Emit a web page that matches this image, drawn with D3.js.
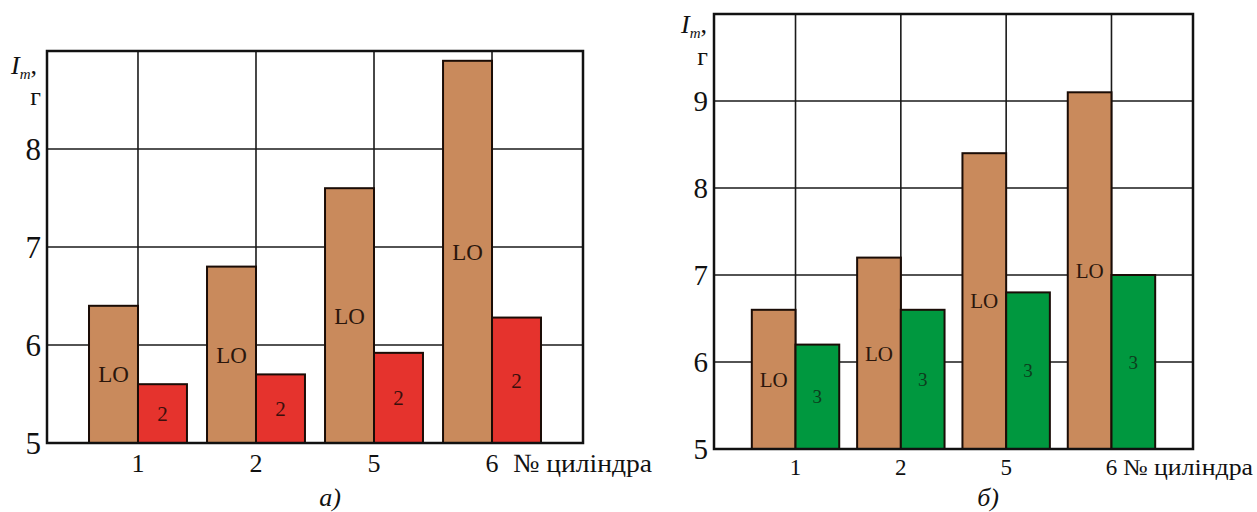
<!DOCTYPE html>
<html>
<head>
<meta charset="utf-8">
<script src="https://cdn.jsdelivr.net/npm/d3@7"></script>
<style>
  html, body { margin: 0; padding: 0; background: #fff; }
  svg { display: block; }
</style>
</head>
<body>
<svg id="chart" width="1257" height="512" font-family="'Liberation Serif', 'DejaVu Serif', serif"></svg>
<script>
// ---- data ----
const categories = ["1", "2", "5", "6"];
const loA = [6.4, 6.8, 7.6, 8.9];
const modeA = [5.6, 5.7, 5.92, 6.28];
const loB = [6.6, 7.2, 8.4, 9.1];
const modeB = [6.2, 6.6, 6.8, 7.0];
const yTicksA = [5, 6, 7, 8];
const yTicksB = [5, 6, 7, 8, 9];
const loLabel = "LO";
const modeLabelA = "2";
const modeLabelB = "3";
const xTitle = "№ циліндра";
const captionA = "а)";
const captionB = "б)";

const FONT = "'Liberation Serif', 'DejaVu Serif', serif";
const svg = d3.select("#chart");

const panels = [
  {
    lo: loA, mode: modeA, ticks: yTicksA, domain: [5, 9], modeLabel: modeLabelA,
    x0: 47, x1: 583, yTop: 51, yBot: 443, pad: 0.771, barFrac: 0.415,
    modeColor: "#e5332d", modeText: "#3a0f0c",
    tickFont: 31, tickX: 41, catFont: 26, catBase: 472, loFont: 23, numFont: 21,
    titleX: 513, titleLen: 139, caption: captionA, capX: 330,
    labelIX: 11, labelIBase: 74, labelGX: 41, labelGBase: 105
  },
  {
    lo: loB, mode: modeB, ticks: yTicksB, domain: [5, 10], modeLabel: modeLabelB,
    x0: 714, x1: 1193, yTop: 14, yBot: 449, pad: 0.774, barFrac: 0.415,
    modeColor: "#00983f", modeText: "#0d3d1d",
    tickFont: 29, tickX: 708, catFont: 23, catBase: 475, loFont: 21, numFont: 19,
    titleX: 1123, titleLen: 130, caption: captionB, capX: 988,
    labelIX: 681, labelIBase: 33, labelGX: 708, labelGBase: 65
  }
];

panels.forEach(p => {
  const g = svg.append("g").attr("font-family", FONT);
  const x = d3.scalePoint().domain(categories).range([p.x0, p.x1]).padding(p.pad);
  const y = d3.scaleLinear().domain(p.domain).range([p.yBot, p.yTop]);
  const bw = x.step() * p.barFrac;

  g.selectAll(".hg").data(p.ticks.slice(1)).join("line")
    .attr("x1", p.x0).attr("x2", p.x1)
    .attr("y1", d => y(d)).attr("y2", d => y(d))
    .attr("stroke", "#1a1a1a").attr("stroke-width", 1.6);
  g.selectAll(".vg").data(categories).join("line")
    .attr("x1", d => x(d)).attr("x2", d => x(d))
    .attr("y1", p.yTop).attr("y2", p.yBot)
    .attr("stroke", "#1a1a1a").attr("stroke-width", 1.6);

  g.selectAll(".lo").data(categories).join("rect")
    .attr("x", d => x(d) - bw)
    .attr("width", bw)
    .attr("y", (d, i) => y(p.lo[i]))
    .attr("height", (d, i) => y(p.domain[0]) - y(p.lo[i]))
    .attr("fill", "#c98a5c").attr("stroke", "#1a0c06").attr("stroke-width", 2);
  g.selectAll(".md").data(categories).join("rect")
    .attr("x", d => x(d))
    .attr("width", bw)
    .attr("y", (d, i) => y(p.mode[i]))
    .attr("height", (d, i) => y(p.domain[0]) - y(p.mode[i]))
    .attr("fill", p.modeColor).attr("stroke", "#1a0c06").attr("stroke-width", 2);

  g.append("rect")
    .attr("x", p.x0).attr("y", p.yTop)
    .attr("width", p.x1 - p.x0).attr("height", p.yBot - p.yTop)
    .attr("fill", "none").attr("stroke", "#111").attr("stroke-width", 2.5);

  const txt = (sel) => sel.attr("font-family", FONT);

  txt(g.selectAll(".lol").data(categories).join("text"))
    .attr("x", d => x(d) - bw / 2)
    .attr("y", (d, i) => (y(p.lo[i]) + y(p.domain[0])) / 2)
    .attr("dy", "0.35em")
    .attr("text-anchor", "middle")
    .attr("font-size", p.loFont)
    .attr("fill", "#2a160c")
    .text(loLabel);
  txt(g.selectAll(".mdl").data(categories).join("text"))
    .attr("x", d => x(d) + bw / 2)
    .attr("y", (d, i) => (y(p.mode[i]) + y(p.domain[0])) / 2)
    .attr("dy", "0.35em")
    .attr("text-anchor", "middle")
    .attr("font-size", p.numFont)
    .attr("fill", p.modeText)
    .text(p.modeLabel);

  txt(g.selectAll(".yt").data(p.ticks).join("text"))
    .attr("x", p.tickX)
    .attr("y", d => y(d))
    .attr("dy", "0.36em")
    .attr("text-anchor", "end")
    .attr("font-size", p.tickFont)
    .attr("fill", "#111")
    .text(d => d);

  txt(g.selectAll(".xt").data(categories).join("text"))
    .attr("x", d => x(d))
    .attr("y", p.catBase)
    .attr("text-anchor", "middle")
    .attr("font-size", p.catFont)
    .attr("fill", "#111")
    .text(d => d);

  txt(g.append("text"))
    .attr("x", p.titleX).attr("y", p.catBase)
    .attr("font-size", p.catFont)
    .attr("textLength", p.titleLen)
    .attr("lengthAdjust", "spacingAndGlyphs")
    .attr("fill", "#111")
    .text(xTitle);

  const yl = txt(g.append("text"))
    .attr("x", p.labelIX).attr("y", p.labelIBase)
    .attr("font-size", 26).attr("fill", "#111");
  yl.append("tspan").attr("font-style", "italic").text("I");
  yl.append("tspan").attr("font-style", "italic").attr("font-size", 15).attr("dy", 5).text("m");
  yl.append("tspan").attr("dy", -5).text(",");
  txt(g.append("text"))
    .attr("x", p.labelGX).attr("y", p.labelGBase)
    .attr("text-anchor", "end")
    .attr("font-size", 26).attr("fill", "#111")
    .text("г");

  txt(g.append("text"))
    .attr("x", p.capX).attr("y", 506)
    .attr("text-anchor", "middle")
    .attr("font-size", 26)
    .attr("font-style", "italic")
    .attr("fill", "#111")
    .text(p.caption);
});
</script>
</body>
</html>
